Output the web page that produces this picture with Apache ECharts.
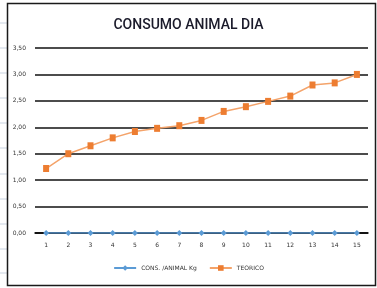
<!DOCTYPE html>
<html>
<head>
<meta charset="utf-8">
<script src="https://cdn.jsdelivr.net/npm/echarts@6/dist/echarts.min.js"></script>
<style>
  html, body { margin: 0; padding: 0; background: #fff; }
  #main { width: 377px; height: 288px; }
</style>
</head>
<body>
<div id="main"></div>
<script type="text/javascript">
	// datos
	var dias = ['1','2','3','4','5','6','7','8','9','10','11','12','13','14','15'];
	var consAnimal = [0,0,0,0,0,0,0,0,0,0,0,0,0,0,0];
	var teorico = [1.22,1.50,1.65,1.80,1.92,1.98,2.03,2.13,2.30,2.39,2.49,2.59,2.80,2.84,3.00];
	var nombres = ['CONS. /ANIMAL Kg', 'TEORICO'];

	// lineas de la hoja de calculo al fondo
	var hoja = [];
	var ys = [23, 48, 73, 98, 123, 148, 174, 199, 224, 249, 273];
	for (var i = 0; i < ys.length; i++) {
		hoja.push({type:'line', shape:{x1:0, y1:ys[i], x2:7, y2:ys[i]}, style:{stroke:'#c9d3e0', lineWidth:1}, silent:true});
	}
	hoja.push({type:'rect', shape:{x:7.5, y:3.5, width:368, height:282}, style:{fill:null, stroke:'#1a1a1a', lineWidth:1.5}, silent:true});

	var myChart = echarts.init(document.getElementById('main'));
	var option = {
		animation: false,
		graphic: hoja,
		title: {
			text: 'CONSUMO ANIMAL DIA',
			left: 'center',
			top: 13,
			textStyle: { fontFamily: 'Roboto', fontSize: 14, fontWeight: 500, color: '#1a1a2a' }
		},
		grid: { left: 35, right: 9, top: 48, bottom: 55 },
		legend: {
			data: nombres,
			bottom: 12,
			left: 'center',
			itemWidth: 22,
			itemHeight: 7,
			itemGap: 12,
			textStyle: { fontSize: 6, color: '#333', fontFamily: 'DejaVu Sans' }
		},
		xAxis: {
			type: 'category',
			data: dias,
			boundaryGap: true,
			axisLine: { lineStyle: { color: '#000', width: 1.5 } },
			axisTick: { show: false },
			axisLabel: { fontSize: 6, color: '#333', margin: 9, fontFamily: 'DejaVu Sans' }
		},
		yAxis: {
			type: 'value',
			min: 0,
			max: 3.5,
			interval: 0.5,
			axisLine: { show: false },
			axisTick: { show: false },
			axisLabel: {
				fontSize: 6, color: '#333', margin: 9, fontFamily: 'DejaVu Sans',
				formatter: function (v) { return v.toFixed(2).replace('.', ','); }
			},
			splitLine: { lineStyle: { color: '#111', width: 1.5 } }
		},
		series: [
			{
				name: nombres[0],
				type: 'line',
				data: consAnimal,
				symbol: 'diamond',
				symbolSize: 6,
				itemStyle: { color: '#5b9bd5' },
				lineStyle: { color: '#5b9bd5', width: 1.5 }
			},
			{
				name: nombres[1],
				type: 'line',
				data: teorico,
				symbol: 'rect',
				symbolSize: [6, 7],
				itemStyle: { color: '#ed7d31' },
				lineStyle: { color: '#f4a36a', width: 1.5 }
			}
		]
	};
	myChart.setOption(option);
</script>
</body>
</html>
